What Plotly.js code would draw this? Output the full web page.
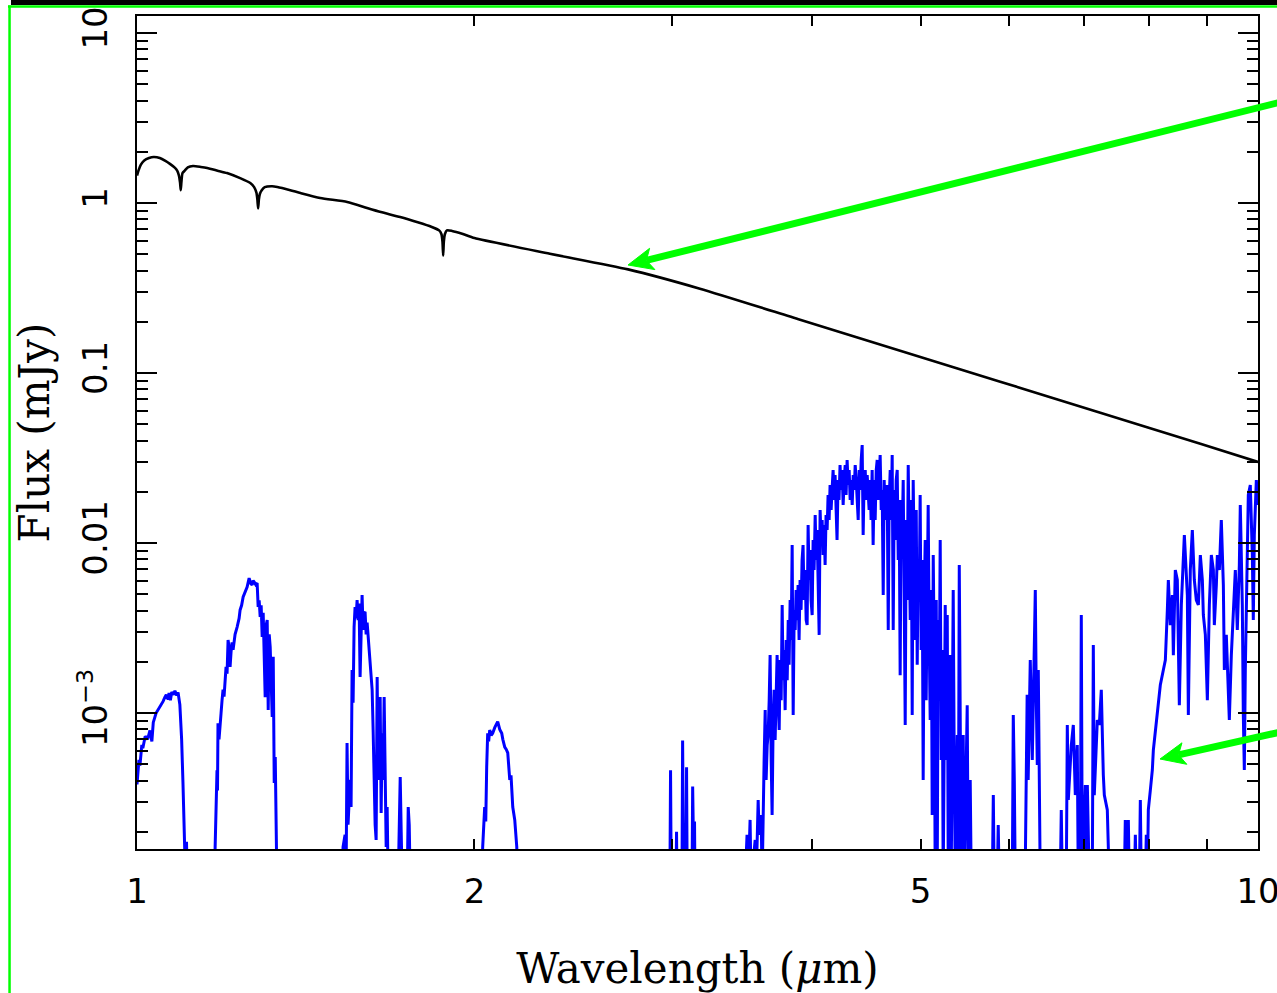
<!DOCTYPE html>
<html>
<head>
<meta charset="utf-8">
<script src="https://cdn.plot.ly/plotly-3.0.1.min.js"></script>
<style>html,body{margin:0;padding:0;background:#fff;}#chart{width:1277px;height:993px;}</style>
</head>
<body>
<div id="chart"></div>
<script>
// ---- Star (black) spectrum: wavelength (um) and flux (mJy) ----
const starWl = [1.000,1.003,1.008,1.015,1.025,1.035,1.048,1.060,1.070,1.080,1.086,1.090,1.0925,1.094,1.0955,1.098,1.103,1.110,1.122,1.140,1.155,1.180,1.203,1.236,1.262,1.272,1.278,1.2805,1.2825,1.2845,1.287,1.292,1.300,1.320,1.334,1.370,1.399,1.457,1.540,1.604,1.650,1.717,1.780,1.830,1.860,1.869,1.873,1.8755,1.878,1.882,1.890,1.910,1.950,2.000,2.335,2.742,3.178,3.904,4.795,5.889,7.233,8.883,10.00];
const starFlux = [1.45,1.55,1.68,1.78,1.84,1.865,1.84,1.77,1.70,1.62,1.55,1.45,1.32,1.19,1.33,1.50,1.55,1.62,1.65,1.63,1.607,1.55,1.50,1.40,1.31,1.24,1.15,1.05,0.93,1.05,1.13,1.19,1.24,1.255,1.242,1.19,1.145,1.07,1.014,0.935,0.885,0.827,0.77,0.725,0.69,0.655,0.59,0.49,0.59,0.655,0.69,0.685,0.66,0.622,0.503,0.407,0.3133,0.2058,0.1353,0.0889,0.0584,0.0384,0.0300];

// ---- Planet (blue) spectrum: wavelength (um) and flux (mJy); 1e-4 = below plotted range ----
const planetWl = [
1.000,1.004,1.006,1.010,1.012,1.017,1.022,1.027,1.031,1.034,1.040,1.046,1.050,1.055,1.059,1.062,1.066,1.068,1.071,1.074,1.078,1.081,1.085,1.088,1.092,1.096,1.099,1.103,1.105,1.107,1.109,
1.172,1.1738,1.1762,1.1786,1.1798,1.1810,1.1835,1.1860,1.1885,1.1909,1.1933,1.1958,1.1983,1.2007,1.2032,1.2057,1.2082,1.2107,1.2132,1.2157,1.2182,1.2232,1.2283,1.2333,1.2359,1.2397,1.2436,1.2487,1.2538,1.2590,1.2629,1.2668,1.2694,1.2720,1.2760,1.2799,1.2826,1.2852,1.2879,1.2905,1.2932,1.2959,1.2985,1.3012,1.3039,1.3066,1.3093,1.3120,1.3147,1.3174,1.3201,1.3229,1.3256,1.3284,1.3311,1.3330,
1.524,1.5269,1.5332,1.5363,1.5395,1.5427,1.5491,1.5523,1.5555,1.5587,1.5619,1.5651,1.5683,1.5716,1.5748,1.5781,1.5813,1.5846,1.5878,1.5911,1.5944,1.5977,1.6010,1.6043,1.6076,1.6109,1.6142,1.6176,1.6209,1.6242,1.6276,1.6309,1.6343,1.6377,1.6410,1.6444,1.6478,1.6512,1.6546,1.6580,1.6614,1.6648,1.6683,1.6717,1.6751,1.7100,1.7171,1.7206,1.7242,1.7420,1.7456,1.7492,1.7528,
2.030,2.0341,2.0425,2.0470,2.0509,2.0551,2.0593,2.0636,2.0700,2.0763,2.0850,2.0935,2.0978,2.1066,2.1153,2.1200,2.1284,2.1350,2.1416,2.1504,2.1560,2.1637,2.1726,2.1816,2.1850,
2.988,2.992,2.996,3.026,3.029,3.032,3.063,3.067,3.071,3.076,3.088,3.092,3.096,3.127,3.131,3.135,3.140,3.143,3.146,
3.487,3.501,3.509,3.523,3.530,3.560,3.567,3.582,3.589,3.604,3.611,3.619,3.626,3.634,3.641,3.649,3.656,3.664,3.671,3.679,3.686,3.694,3.701,3.709,3.717,3.724,3.732,3.740,3.747,3.755,3.763,3.770,3.778,3.786,3.794,3.802,3.810,3.817,3.825,3.833,3.841,3.849,3.857,3.865,3.872,3.880,3.888,3.896,3.904,3.912,3.920,3.928,3.936,3.945,3.953,3.961,3.969,3.977,3.985,3.993,4.002,4.010,4.018,4.027,4.035,4.043,4.051,4.060,4.068,4.076,4.085,4.093,4.102,4.110,4.118,4.127,4.135,4.144,4.152,4.161,4.169,4.178,4.186,4.195,4.204,4.212,4.221,4.229,4.238,4.247,4.256,4.265,4.274,4.283,4.291,4.300,4.309,4.318,4.327,4.336,4.345,4.354,4.363,4.372,4.381,4.390,4.399,4.408,4.417,4.426,4.435,4.444,4.453,4.463,4.472,4.481,4.490,4.499,4.508,4.517,4.527,4.536,4.546,4.555,4.565,4.574,4.583,4.593,4.602,4.612,4.621,4.631,4.640,4.650,4.660,4.669,4.679,4.688,4.698,4.708,4.717,4.727,4.737,4.747,4.756,4.766,4.776,4.785,4.795,4.805,4.815,4.825,4.835,4.845,4.855,4.865,4.875,4.885,4.895,4.905,4.915,4.925,4.935,4.946,4.956,4.966,4.976,4.986,4.996,5.006,5.017,5.027,5.038,5.048,5.058,5.069,5.079,5.090,5.100,5.111,5.121,5.132,5.142,5.153,5.164,5.174,5.185,5.195,5.206,5.217,5.228,5.238,5.249,5.260,5.271,5.282,5.293,5.314,5.325,5.347,5.358,5.370,5.392,5.403,5.414,5.436,5.458,5.470,5.503,5.515,5.537,5.549,
5.794,5.806,5.817,5.853,5.865,5.877,6.037,6.049,6.062,6.074,6.198,6.224,6.237,6.264,6.290,6.329,6.342,6.355,6.368,6.394,
6.662,6.676,6.690,6.745,6.759,6.773,6.815,6.843,6.871,6.899,6.913,6.942,6.956,6.971,7.014,7.028,7.043,7.071,7.115,7.130,7.144,7.189,7.218,7.248,7.278,7.293,7.338,7.368,
7.599,7.614,7.630,7.646,7.662,7.677,7.757,7.773,7.789,7.837,7.853,7.869,7.934,7.950,7.967,
7.983,8.016,8.049,8.066,8.099,8.116,8.149,8.182,8.233,8.267,8.301,8.318,8.352,8.387,8.404,8.438,8.473,8.508,8.543,8.578,8.596,8.649,8.667,8.702,8.738,8.774,8.810,8.847,8.883,8.920,8.938,8.975,9.012,9.049,9.086,9.124,9.142,9.180,9.199,9.237,9.274,9.313,9.332,9.370,9.409,9.428,9.467,9.506,9.545,9.584,9.624,9.643,9.683,9.703,9.723,9.743,9.783,9.803,9.843,9.884,9.904,9.925,9.966,10.0
];
const planetFlux = [
3.8e-4,5.3e-4,4.9e-4,6.5e-4,6.2e-4,7.3e-4,7.0e-4,7.9e-4,6.8e-4,8.8e-4,1.0e-3,1.06e-3,1.12e-3,1.17e-3,1.24e-3,1.28e-3,1.20e-3,1.31e-3,1.19e-3,1.33e-3,1.28e-3,1.35e-3,1.27e-3,1.32e-3,1.12e-3,7.0e-4,3.9e-4,1.9e-4,1.0e-4,1.75e-4,1.0e-4,
1e-4,1.7e-4,2.3e-4,4.6e-4,3.5e-4,8.7e-4,7.0e-4,9.1e-4,1.0e-3,1.19e-3,1.37e-3,1.25e-3,1.6e-3,1.87e-3,1.7e-3,2.69e-3,2.44e-3,1.87e-3,2.3e-3,2.6e-3,2.35e-3,2.9e-3,3.2e-3,3.6e-3,4.04e-3,4.3e-3,4.81e-3,5.2e-3,5.51e-3,6.22e-3,5.8e-3,5.66e-3,6.0e-3,5.9e-3,5.7e-3,5.82e-3,4.20e-3,4.6e-3,3.67e-3,4.3e-3,2.80e-3,3.88e-3,2.4e-3,1.24e-3,3.3e-3,3.52e-3,1.04e-3,2.9e-3,2.44e-3,1.6e-3,9.47e-4,2.14e-3,3.88e-4,5.5e-4,1.63e-4,1e-4,
1e-4,1.63e-4,1.92e-4,1e-4,6.65e-4,2.2e-4,4.04e-4,2.8e-4,1.79e-3,1.15e-3,3.2e-3,4.20e-3,3.6e-3,4.62e-3,3.52e-3,4.4e-3,1.63e-3,3.52e-3,4.94e-3,3.08e-3,3.9e-3,3.88e-3,2.9e-3,3.4e-3,2.80e-3,2.3e-3,2.0e-3,1.7e-3,1.37e-3,7.94e-4,4.0e-4,2.2e-4,1.79e-4,1.63e-3,4.04e-4,1.1e-3,1.24e-3,2.58e-4,7.6e-4,4.04e-4,1.24e-3,4.8e-4,1.63e-4,2.8e-4,1e-4,1e-4,4.2e-4,2.0e-4,1e-4,1e-4,2.8e-4,2.2e-4,1e-4,
1e-4,1.63e-4,2.8e-4,2.3e-4,4.81e-4,7.6e-4,6.8e-4,7.94e-4,7.4e-4,7.6e-4,8.2e-4,8.73e-4,8.9e-4,8.0e-4,7.6e-4,7.0e-4,6.3e-4,6.1e-4,5.82e-4,4.04e-4,4.3e-4,2.8e-4,2.35e-4,1.63e-4,1e-4,
1e-4,4.6e-4,1e-4,1e-4,2.0e-4,1e-4,1e-4,6.9e-4,2.2e-4,1e-4,1e-4,4.8e-4,1e-4,1e-4,3.7e-4,1e-4,1e-4,2.3e-4,1e-4,
1e-4,1.92e-4,1e-4,2.35e-4,1e-4,1.79e-4,1e-4,3.08e-4,1.92e-4,2.51e-4,1e-4,3.52e-4,5.29e-4,1.04e-3,4.04e-4,6.48e-4,7.42e-4,1.19e-3,2.19e-3,5.29e-4,2.51e-4,9.10e-4,1.37e-3,6.94e-4,1.19e-3,2.19e-3,1.19e-3,7.94e-4,2.05e-3,1.19e-3,4.32e-3,1.56e-3,2.35e-3,1.04e-3,2.69e-3,1.56e-3,3.52e-3,1.92e-3,4.62e-3,2.69e-3,9.73e-3,9.73e-4,4.04e-3,3.08e-3,5.29e-3,3.52e-3,5.66e-3,2.69e-3,6.06e-3,4.04e-3,7.94e-3,9.73e-3,4.62e-3,6.94e-3,3.52e-3,3.29e-3,1.276e-2,6.06e-3,9.10e-3,4.62e-3,3.77e-3,1.041e-2,6.94e-3,1.461e-2,7.94e-3,1.193e-2,6.06e-3,2.88e-3,1.563e-2,1.041e-2,1.365e-2,8.50e-3,1.276e-2,7.42e-3,1.461e-2,1.193e-2,1.916e-2,1.365e-2,2.194e-2,1.563e-2,2.050e-2,2.688e-2,1.791e-2,2.512e-2,1.563e-2,1.041e-2,2.348e-2,1.791e-2,2.876e-2,2.050e-2,2.688e-2,1.673e-2,2.348e-2,2.876e-2,1.916e-2,3.078e-2,2.194e-2,2.688e-2,1.791e-2,2.348e-2,1.673e-2,2.512e-2,2.050e-2,2.876e-2,2.348e-2,1.791e-2,1.365e-2,2.688e-2,2.050e-2,3.078e-2,3.771e-2,1.114e-2,2.348e-2,2.688e-2,1.791e-2,2.512e-2,2.050e-2,1.563e-2,2.348e-2,1.365e-2,2.688e-2,9.73e-3,2.348e-2,1.365e-2,2.688e-2,3.078e-2,1.791e-2,2.688e-2,3.293e-2,1.563e-2,2.050e-2,4.94e-3,2.348e-2,1.365e-2,1.791e-2,2.194e-2,3.08e-3,1.791e-2,2.688e-2,1.365e-2,3.293e-2,3.08e-3,2.050e-2,1.041e-2,2.348e-2,2.688e-2,7.94e-3,1.791e-2,1.67e-3,1.791e-2,1.041e-2,2.348e-2,4.62e-3,8.50e-4,1.365e-2,4.62e-3,2.876e-2,7.94e-3,3.52e-3,1.791e-2,9.73e-4,2.348e-2,6.06e-3,2.69e-3,1.563e-2,1.92e-3,7.94e-3,4.62e-3,1.916e-2,2.35e-3,7.94e-3,4.04e-4,4.62e-3,1.041e-2,1.19e-3,7.94e-3,1.673e-2,2.69e-3,9.10e-4,5.29e-3,2.51e-4,8.50e-3,2.35e-3,1e-4,4.62e-3,1e-4,3.52e-3,1.19e-3,1.041e-2,5.29e-4,2.35e-3,1e-4,1.19e-3,4.32e-3,5.29e-4,3.77e-3,1e-4,2.19e-3,1e-4,5.29e-3,5.29e-4,1e-4,7.42e-4,1e-4,7.42e-3,1e-4,7.42e-4,1e-4,1.11e-3,1e-4,4.04e-4,1e-4,
1e-4,3.29e-4,1e-4,1e-4,2.19e-4,1e-4,1e-4,9.73e-4,4.04e-4,1e-4,1e-4,1.28e-3,4.04e-4,2.05e-3,5.29e-4,5.29e-3,1.19e-3,4.94e-4,1.79e-3,1e-4,
1e-4,2.69e-4,1e-4,1e-4,8.50e-4,3.08e-4,6.48e-4,8.50e-4,3.29e-4,6.48e-4,1e-4,1e-4,3.77e-3,1e-4,3.77e-4,1e-4,3.77e-4,1e-4,1e-4,2.51e-3,3.29e-4,9.10e-4,8.50e-4,1.37e-3,4.32e-4,3.29e-4,2.69e-4,1e-4,
1e-4,2.35e-4,1e-4,1e-4,2.35e-4,1e-4,1e-4,1.92e-4,1e-4,1e-4,3.08e-4,1e-4,1e-4,1.92e-4,1e-4,
2.69e-4,3.52e-4,4.62e-4,6.06e-4,7.94e-4,9.10e-4,1.19e-3,1.46e-3,1.79e-3,2.05e-3,4.04e-3,6.06e-3,3.29e-3,4.94e-3,2.19e-3,6.94e-3,6.06e-3,1.11e-3,4.32e-3,9.10e-3,1.114e-2,4.94e-3,9.73e-4,6.94e-3,1.193e-2,6.06e-3,4.62e-3,4.32e-3,8.50e-3,6.06e-3,3.77e-3,2.88e-3,1.19e-3,4.32e-3,8.50e-3,6.94e-3,3.29e-3,5.66e-3,8.50e-3,6.94e-3,1.365e-2,5.66e-3,1.79e-3,2.88e-3,1.11e-3,9.10e-4,2.19e-3,4.32e-3,6.94e-3,3.08e-3,7.42e-3,1.673e-2,4.32e-3,9.73e-4,4.62e-4,1.79e-3,6.94e-3,1.916e-2,2.194e-2,8.50e-3,3.52e-3,1.114e-2,2.348e-2,1.673e-2
];

// ---- Axis ticks ----
const xTickVals = [1,2,3,4,5,6,7,8,9,10];
const xTickText = ['1','2','','','5','','','','','10'];
const yTickVals = [10,1,0.1,0.01,0.001];
const yTickText = ['10','1','0.1','0.01','10<sup>\u22123</sup>'];
const yMinorVals = [2e-4,3e-4,4e-4,5e-4,6e-4,7e-4,8e-4,9e-4,
  2e-3,3e-3,4e-3,5e-3,6e-3,7e-3,8e-3,9e-3,
  0.02,0.03,0.04,0.05,0.06,0.07,0.08,0.09,
  0.2,0.3,0.4,0.5,0.6,0.7,0.8,0.9,
  2,3,4,5,6,7,8,9];

const traces = [
  {x: planetWl, y: planetFlux, type: 'scatter', mode: 'lines',
   line: {color: '#0000ff', width: 3}, hoverinfo: 'skip'},
  {x: starWl, y: starFlux, type: 'scatter', mode: 'lines',
   line: {color: '#000000', width: 2.6, shape: 'spline', smoothing: 0.6}, hoverinfo: 'skip'}
];

const GREEN = '#00ff00';
// arrow geometry in paper fractions (decoration, not data)
function arrowShapes(tail, notch, tip, c1, c2) {
  return [
    {type: 'line', xref: 'paper', yref: 'paper', x0: tail[0], y0: tail[1], x1: notch[0], y1: notch[1],
     line: {color: GREEN, width: 7}, layer: 'above'},
    {type: 'path', xref: 'paper', yref: 'paper',
     path: 'M' + tip.join(',') + 'L' + c1.join(',') + 'L' + notch.join(',') + 'L' + c2.join(',') + 'Z',
     fillcolor: GREEN, line: {color: GREEN, width: 1}, layer: 'above'}
  ];
}

const layout = {
  width: 1277, height: 993,
  margin: {l: 137, r: 19, t: 16, b: 144, pad: 0},
  paper_bgcolor: '#ffffff', plot_bgcolor: '#ffffff',
  showlegend: false,
  font: {family: 'DejaVu Serif', color: '#000000'},
  xaxis: {
    type: 'log', range: [0, 1], fixedrange: true,
    tickmode: 'array', tickvals: xTickVals, ticktext: xTickText,
    ticks: 'inside', ticklen: 10, tickwidth: 2, tickcolor: '#000',
    showline: true, linecolor: '#000', linewidth: 2, mirror: 'ticks',
    showgrid: false, zeroline: false,
    ticklabeloverflow: 'allow',
    tickfont: {family: 'DejaVu Sans', size: 34, color: '#000'},
    ticklabelstandoff: 11,
    title: {text: 'Wavelength (<i>\u03bc</i>m)', font: {family: 'DejaVu Serif', size: 42, color: '#000'}, standoff: 46}
  },
  yaxis: {
    type: 'log', range: [-3.8, 1.1], fixedrange: true,
    tickmode: 'array', tickvals: yTickVals, ticktext: yTickText,
    ticks: 'inside', ticklen: 20, tickwidth: 2, tickcolor: '#000',
    tickangle: -90,
    showline: true, linecolor: '#000', linewidth: 2, mirror: 'ticks',
    showgrid: false, zeroline: false,
    minor: {tickmode: 'array', tickvals: yMinorVals, ticks: 'inside', ticklen: 11, tickwidth: 2, tickcolor: '#000', showgrid: false},
    tickfont: {family: 'DejaVu Sans', size: 34, color: '#000'},
    ticklabelstandoff: 14,
    title: {text: 'Flux (mJy)', font: {family: 'DejaVu Serif', size: 42, color: '#000'}, standoff: 8}
  },
  shapes: [
    {type: 'rect', xref: 'paper', yref: 'paper', x0: -0.1124, x1: 1.03, y0: 1.0132, y1: 1.03,
     fillcolor: '#000000', line: {width: 0}, layer: 'above'},
    {type: 'line', xref: 'paper', yref: 'paper', x0: -0.1151, x1: 1.03, y0: 1.0114, y1: 1.0114,
     line: {color: GREEN, width: 2.5}, layer: 'above'},
    {type: 'line', xref: 'paper', yref: 'paper', x0: -0.1137, x1: -0.1137, y0: 1.0126, y1: -0.18,
     line: {color: GREEN, width: 2.5}, layer: 'above'}
  ].concat(
    arrowShapes([1.02409, 0.89796], [0.45442, 0.70660], [0.43800, 0.70108], [0.45727, 0.72113], [0.46200, 0.69556]),
    arrowShapes([1.02409, 0.14166], [0.92908, 0.11303], [0.91258, 0.10804], [0.93220, 0.12749], [0.93649, 0.10168])
  )
};

Plotly.newPlot('chart', traces, layout, {staticPlot: true, displayModeBar: false});
</script>
</body>
</html>
